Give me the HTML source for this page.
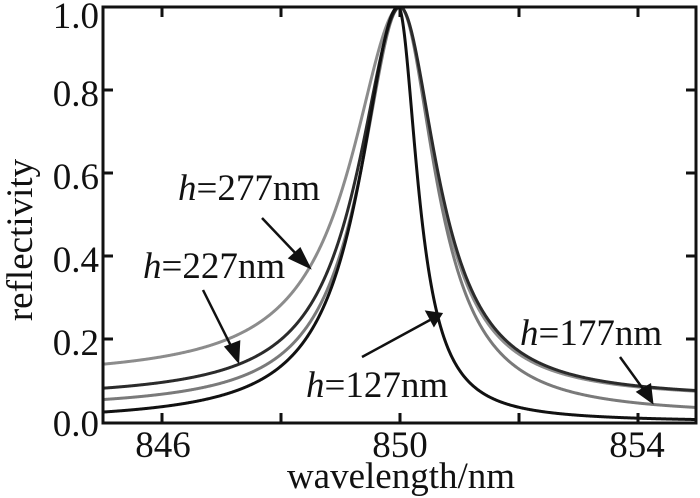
<!DOCTYPE html>
<html><head><meta charset="utf-8"><style>
html,body{margin:0;padding:0;background:#fff;}
svg{display:block;}
text{font-family:"Liberation Serif",serif;font-size:37px;fill:#111;}
</style></head><body>
<svg id="s" width="700" height="498" viewBox="0 0 700 498" xmlns="http://www.w3.org/2000/svg">
<g id="curves" fill="none" stroke-width="3" stroke-linejoin="round"></g>
<rect x="103" y="7" width="593" height="416" fill="none" stroke="#111" stroke-width="3"/>
<g stroke="#111" stroke-width="3">
<line x1="162" y1="423" x2="162" y2="413"/><line x1="281" y1="423" x2="281" y2="413"/><line x1="400" y1="423" x2="400" y2="413"/><line x1="519" y1="423" x2="519" y2="413"/><line x1="638" y1="423" x2="638" y2="413"/>
<line x1="162" y1="7" x2="162" y2="17"/><line x1="281" y1="7" x2="281" y2="17"/><line x1="400" y1="7" x2="400" y2="17"/><line x1="519" y1="7" x2="519" y2="17"/><line x1="638" y1="7" x2="638" y2="17"/>
<line x1="103" y1="339" x2="113" y2="339"/><line x1="103" y1="256" x2="113" y2="256"/><line x1="103" y1="173" x2="113" y2="173"/><line x1="103" y1="90" x2="113" y2="90"/>
<line x1="696" y1="339" x2="686" y2="339"/><line x1="696" y1="256" x2="686" y2="256"/><line x1="696" y1="173" x2="686" y2="173"/><line x1="696" y1="90" x2="686" y2="90"/>
</g>
<g text-anchor="end">
<text x="99" y="28">1.0</text><text x="99" y="106">0.8</text><text x="99" y="189">0.6</text><text x="99" y="272">0.4</text><text x="99" y="355">0.2</text><text x="99" y="436">0.0</text>
</g>
<g text-anchor="middle">
<text x="163" y="457">846</text><text x="400" y="457">850</text><text x="637" y="457">854</text>
<text x="401" y="488">wavelength/nm</text>
<text transform="translate(32,240) rotate(-90)">reflectivity</text>
</g>
<text x="178" y="200"><tspan font-style="italic">h</tspan>=277nm</text>
<text x="143" y="278"><tspan font-style="italic">h</tspan>=227nm</text>
<text x="520" y="345"><tspan font-style="italic">h</tspan>=177nm</text>
<text x="306" y="397"><tspan font-style="italic">h</tspan>=127nm</text>
<g stroke="#111" stroke-width="2.5" fill="#111">
<line x1="262" y1="218" x2="300" y2="258"/><polygon points="309,267 290,258 300,249"/>
<line x1="203" y1="290" x2="233" y2="350"/><polygon points="238,361 226,347 239,342"/>
<line x1="620" y1="357" x2="646" y2="393"/><polygon points="652,402 638,392 650,385"/>
<line x1="362" y1="357" x2="430" y2="320"/><polygon points="441,314 427,312 434,325"/>
</g>
</svg>
<script>
var P=[
 {c:"#8c8c8c",gL:1.0,gR:0.72,bL:0.105,bR:0.055,x0:850.0},
 {c:"#7a7a7a",gL:0.80,gR:0.72,bL:0.03,bR:0.015,x0:850.0},
 {c:"#2b2b2b",gL:0.85,gR:0.75,bL:0.055,bR:0.055,x0:850.0},
 {c:"#111111",gL:0.78,gR:0.39,bL:0.0,bR:0.0,x0:849.97}
];
var g=document.getElementById("curves"),ns="http://www.w3.org/2000/svg";
P.forEach(function(p){
 var d="";
 for(var i=0;i<=1200;i++){
  var l=845+10*i/1200,D=l-p.x0,gm=D<0?p.gL:p.gR;
  var L=1/(1+(D/gm)*(D/gm));
  var s=1/(1+Math.exp(-D/0.5));
  var b=p.bL+(p.bR-p.bL)*s;
  var v=b+(1-b)*L;
  var x=400+59.3*(l-850),y=422-415*v;
  d+=(i?"L":"M")+x.toFixed(2)+" "+y.toFixed(2);
 }
 var e=document.createElementNS(ns,"path");
 e.setAttribute("d",d);e.setAttribute("stroke",p.c);
 g.appendChild(e);
});
</script>
</body></html>
